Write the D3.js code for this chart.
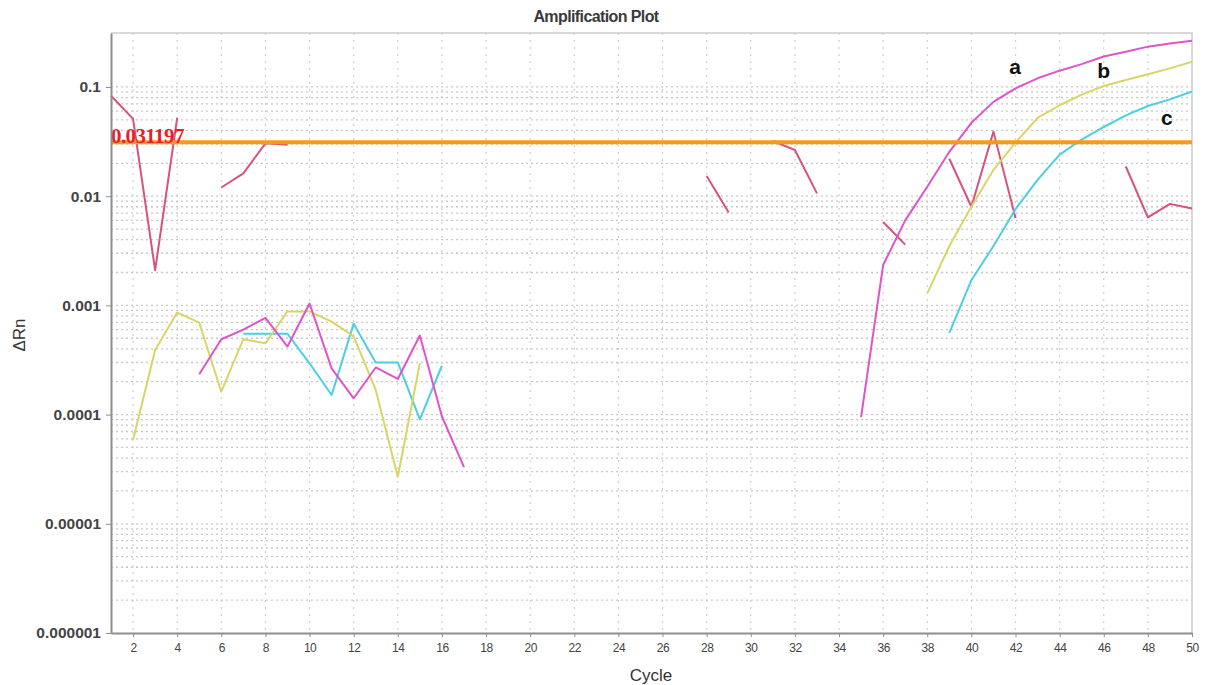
<!DOCTYPE html>
<html>
<head>
<meta charset="utf-8">
<script src="https://cdn.jsdelivr.net/npm/d3@7/dist/d3.min.js"></script>
<style>
  html, body { margin: 0; padding: 0; background: #fff; }
  svg { display: block; }
</style>
</head>
<body>
<svg id="chart" width="1205" height="685"></svg>
<script>
// Cycle numbers 1..50
const cycles = d3.range(1, 51);

// ΔRn per cycle; null where the value is not plotted (non-positive on a log axis)
const sampleA = [null, null, null, null, 0.000234, 0.00049, 0.0006, 0.00077, 0.00042, 0.00104,
  0.000265, 0.000141, 0.00027, 0.000212, 0.00053, 0.000096, 0.000033, null, null, null,
  null, null, null, null, null, null, null, null, null, null,
  null, null, null, null, 0.000095, 0.00234, 0.006, 0.0122, 0.0255, 0.047,
  0.073, 0.097, 0.12, 0.141, 0.162, 0.19, 0.21, 0.234, 0.25, 0.265];

const sampleB = [null, 0.0000585, 0.00039, 0.00086, 0.000695, 0.000162, 0.00049, 0.00045, 0.00088, 0.00088,
  0.00071, 0.00052, 0.000168, 0.000027, 0.000295, null, null, null, null, null,
  null, null, null, null, null, null, null, null, null, null,
  null, null, null, null, null, null, null, 0.00129, 0.0035, 0.008,
  0.0174, 0.031, 0.052, 0.068, 0.085, 0.102, 0.116, 0.131, 0.148, 0.17];

const sampleC = [null, null, null, null, null, null, 0.00055, 0.00055, 0.00055, 0.000295,
  0.000151, 0.00068, 0.0003, 0.0003, 0.0000906, 0.00028, null, null, null, null,
  null, null, null, null, null, null, null, null, null, null,
  null, null, null, null, null, null, null, null, 0.00056, 0.0017,
  0.0035, 0.0076, 0.0141, 0.024, 0.033, 0.043, 0.055, 0.067, 0.077, 0.091];

const ntc = [0.083, 0.051, 0.0021, 0.052, null, 0.012, 0.0162, 0.0305, 0.0295, null,
  null, null, null, null, null, null, null, null, null, null,
  null, null, null, null, null, null, null, 0.0153, 0.0071, null,
  0.032, 0.0265, 0.0106, null, null, 0.0058, 0.0036, null, 0.022, 0.008,
  0.039, 0.0063, null, null, null, null, 0.0187, 0.0064, 0.0085, 0.0077];

const threshold = 0.031197;
const xTicks = d3.range(2, 51, 2);
const yTicks = [0.000001, 0.00001, 0.0001, 0.001, 0.01, 0.1];
const yTickLabels = ["0.000001", "0.00001", "0.0001", "0.001", "0.01", "0.1"];

const series = [
  { name: "ntc", values: ntc, color: "#d8527e" },
  { name: "c", values: sampleC, color: "#4ccfe0" },
  { name: "b", values: sampleB, color: "#d9d566" },
  { name: "a", values: sampleA, color: "#e054c9" }
];

// Curve labels placed next to each amplification curve
const curveLabels = [
  { text: "a", cycle: 41.98, value: 0.1315 },
  { text: "b", cycle: 46.0, value: 0.121 },
  { text: "c", cycle: 48.86, value: 0.045 }
];

const svg = d3.select("#chart");
const margin = { left: 111, right: 13, top: 33, bottom: 52 };
const W = 1205, H = 685;

const x = d3.scaleLinear().domain([1, 50]).range([margin.left, W - margin.right]);
const y = d3.scaleLog().domain([0.000001, 0.312]).range([H - margin.bottom, margin.top]);

// Title
svg.append("text")
  .attr("x", 596).attr("y", 22)
  .attr("text-anchor", "middle")
  .attr("font-family", "Liberation Sans, Arial, sans-serif")
  .attr("font-size", 16)
  .attr("font-weight", "bold")
  .attr("fill", "#3a3a3a")
  .style("letter-spacing", "-0.6px")
  .text("Amplification Plot");

const plot = svg.append("g");

// Horizontal dotted grid at every log minor step
const minorVals = [];
for (let e = -6; e <= -2; e++) {
  for (let m = 1; m <= 9; m++) minorVals.push(m * Math.pow(10, e));
}
minorVals.push(0.1);
plot.append("g").selectAll("line")
  .data(minorVals.filter(v => v > y.domain()[0]))
  .join("line")
  .attr("x1", x(1)).attr("x2", x(50))
  .attr("y1", d => y(d)).attr("y2", d => y(d))
  .attr("stroke", "#c8c8c8")
  .attr("stroke-width", 1.3)
  .attr("stroke-dasharray", "2,3");

// Vertical dotted grid at even cycles
plot.append("g").selectAll("line")
  .data(xTicks.slice(0, -1))
  .join("line")
  .attr("x1", d => x(d)).attr("x2", d => x(d))
  .attr("y1", y.range()[1]).attr("y2", y.range()[0])
  .attr("stroke", "#cfcfcf")
  .attr("stroke-width", 1.2)
  .attr("stroke-dasharray", "2,5");

// Plot frame (top and right)
plot.append("path")
  .attr("d", `M${x(1)},${y.range()[1]}H${x(50)}V${y.range()[0]}`)
  .attr("fill", "none")
  .attr("stroke", "#cdcdcd")
  .attr("stroke-width", 1.5);

// Axes
const xAxis = d3.axisBottom(x).tickValues(xTicks).tickSize(4).tickSizeOuter(0).tickFormat(d3.format("d"));
const gx = svg.append("g")
  .attr("transform", `translate(0,${y.range()[0]})`)
  .call(xAxis);
gx.select(".domain").attr("stroke", "#8e8e8e").attr("stroke-width", 2);
gx.selectAll(".tick line").attr("stroke", "#8e8e8e");
gx.selectAll(".tick text")
  .attr("font-family", "Liberation Sans, Arial, sans-serif")
  .attr("font-size", 12)
  .attr("fill", "#444")
  .style("letter-spacing", "-0.5px")
  .attr("dy", "1em");

const yAxis = d3.axisLeft(y).tickValues(yTicks).tickSize(5).tickSizeOuter(0)
  .tickFormat((d, i) => yTickLabels[i]);
const gy = svg.append("g")
  .attr("transform", `translate(${x(1)},0)`)
  .call(yAxis);
gy.select(".domain").attr("stroke", "#8e8e8e").attr("stroke-width", 2);
gy.selectAll(".tick line").attr("stroke", "#8e8e8e");
gy.selectAll(".tick text")
  .attr("font-family", "Liberation Sans, Arial, sans-serif")
  .attr("font-size", 15.5)
  .attr("font-weight", "bold")
  .attr("fill", "#444")
  .attr("x", -10);

// Axis titles
svg.append("text")
  .attr("x", 651).attr("y", 681)
  .attr("text-anchor", "middle")
  .attr("font-family", "Liberation Sans, Arial, sans-serif")
  .attr("font-size", 17)
  .attr("fill", "#333")
  .text("Cycle");

svg.append("text")
  .attr("transform", "translate(25,335) rotate(-90)")
  .attr("text-anchor", "middle")
  .attr("font-family", "Liberation Sans, Arial, sans-serif")
  .attr("font-size", 17)
  .attr("fill", "#333")
  .text("ΔRn");

// Sample traces
const line = d3.line()
  .defined(d => d.v != null)
  .x(d => x(d.c))
  .y(d => y(d.v));

plot.append("g").selectAll("path")
  .data(series)
  .join("path")
  .attr("d", s => line(cycles.map((c, i) => ({ c, v: s.values[i] }))))
  .attr("fill", "none")
  .attr("stroke", s => s.color)
  .attr("stroke-width", 2)
  .attr("stroke-linejoin", "round");

// Threshold line and its value
plot.append("line")
  .attr("x1", x(1)).attr("x2", x(50))
  .attr("y1", y(threshold)).attr("y2", y(threshold))
  .attr("stroke", "#f59a1c")
  .attr("stroke-width", 4);

plot.append("text")
  .attr("x", x(1)).attr("y", y(threshold) + 1)
  .attr("font-family", "Liberation Serif, Times New Roman, serif")
  .attr("font-weight", "bold")
  .attr("font-size", 21)
  .attr("fill", "#e8202a")
  .style("letter-spacing", "-0.6px")
  .text(threshold.toString());

// Curve letters
plot.append("g").selectAll("text")
  .data(curveLabels)
  .join("text")
  .attr("x", d => x(d.cycle))
  .attr("y", d => y(d.value))
  .attr("text-anchor", "middle")
  .attr("font-family", "Liberation Sans, Arial, sans-serif")
  .attr("font-weight", "bold")
  .attr("font-size", 21)
  .attr("fill", "#111")
  .text(d => d.text);
</script>
</body>
</html>
